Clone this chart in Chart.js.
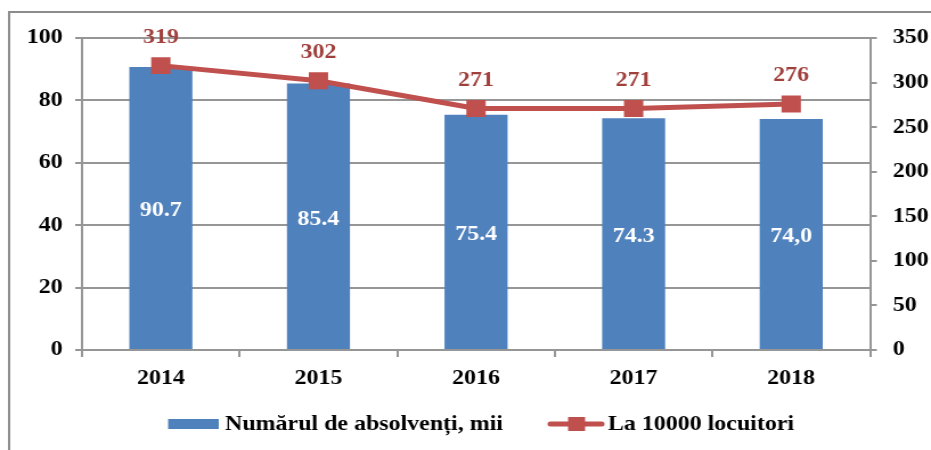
<!DOCTYPE html>
<html>
<head>
<meta charset="utf-8">
<script src="https://cdn.jsdelivr.net/npm/chart.js@4.4.1/dist/chart.umd.min.js"></script>
<style>
  html, body { margin: 0; padding: 0; background: #ffffff; overflow: hidden; }
  #wrap { width: 931px; height: 450px; position: relative; overflow: hidden; }
  /* the reference chart is horizontally stretched; draw narrower and stretch */
  #c { position: absolute; left: 0; top: 0; transform-origin: 0 0; transform: scaleX(1.1395); }
</style>
</head>
<body>
<div id="wrap"><canvas id="c" width="817" height="450"></canvas></div>
<script>
// ---- data ----
const years = ["2014", "2015", "2016", "2017", "2018"];
const graduates = [90.7, 85.4, 75.4, 74.3, 74.0];           // Numărul de absolvenți, mii
const graduatesText = ["90.7", "85.4", "75.4", "74.3", "74,0"];
const per10000 = [319, 302, 271, 271, 276];                 // La 10000 locuitori
const leftTicks = [0, 20, 40, 60, 80, 100];
const rightTicks = [0, 50, 100, 150, 200, 250, 300, 350];
const seriesNames = ["Numărul de absolvenți, mii", "La 10000 locuitori"];

const BLUE = "#4F81BD";
const RED = "#C0504D";
const LABEL_RED = "#A0403D";
const GRID = "#969696";
const FONT = "'Liberation Serif', 'Times New Roman', serif";

const frame = {
  id: "frame",
  beforeDraw(chart) {
    const ctx = chart.ctx;
    ctx.save();
    ctx.strokeStyle = "#8c8c8c";
    ctx.lineWidth = 2;
    ctx.strokeRect(8, 12, 1000, 1000);
    ctx.restore();
  }
};

const valueLabels = {
  id: "valueLabels",
  afterDatasetsDraw(chart) {
    const ctx = chart.ctx;
    ctx.save();
    ctx.textAlign = "center";
    ctx.textBaseline = "middle";
    // bar labels
    const m0 = chart.getDatasetMeta(0);
    ctx.font = "bold 21px " + FONT;
    ctx.fillStyle = "#ffffff";
    m0.data.forEach((el, i) => {
      const y = (el.y + el.base) / 2 + 3;
      ctx.fillText(graduatesText[i], el.x, y);
    });
    // line labels
    const m1 = chart.getDatasetMeta(1);
    ctx.fillStyle = LABEL_RED;
    m1.data.forEach((el, i) => {
      ctx.fillText(String(per10000[i]), el.x, el.y - 28);
    });
    ctx.restore();
  }
};

const customLegend = {
  id: "customLegend",
  afterDraw(chart) {
    const ctx = chart.ctx;
    ctx.save();
    const y = 424;
    ctx.font = "bold 21px " + FONT;
    ctx.textBaseline = "middle";
    ctx.textAlign = "left";
    // bar item
    ctx.fillStyle = BLUE;
    ctx.fillRect(147.5, y - 5, 44.5, 10);
    ctx.fillStyle = "#000000";
    ctx.fillText(seriesNames[0], 197.5, y + 1);
    // line item
    ctx.strokeStyle = RED;
    ctx.lineWidth = 5;
    ctx.lineCap = "round";
    ctx.beginPath();
    ctx.moveTo(483, y);
    ctx.lineTo(528, y);
    ctx.stroke();
    ctx.fillStyle = RED;
    ctx.fillRect(498.5, y - 7, 15, 14);
    ctx.fillStyle = "#000000";
    ctx.fillText(seriesNames[1], 533.5, y + 1);
    ctx.restore();
  }
};

new Chart(document.getElementById("c"), {
  type: "bar",
  data: {
    labels: years,
    datasets: [
      {
        type: "bar",
        label: seriesNames[0],
        data: graduates,
        backgroundColor: BLUE,
        borderWidth: 0,
        yAxisID: "y",
        categoryPercentage: 1.0,
        barPercentage: 0.4,
        order: 2
      },
      {
        type: "line",
        label: seriesNames[1],
        data: per10000,
        borderColor: RED,
        backgroundColor: RED,
        borderWidth: 5,
        pointStyle: "rect",
        pointRadius: 12,
        pointBorderWidth: 0,
        pointBackgroundColor: RED,
        tension: 0,
        yAxisID: "y1",
        order: 1
      }
    ]
  },
  options: {
    responsive: false,
    animation: false,
    devicePixelRatio: 1,
    layout: { padding: { top: 38, bottom: 0, left: 0, right: 0 } },
    plugins: {
      legend: { display: false },
      tooltip: { enabled: false }
    },
    scales: {
      x: {
        offset: true,
        grid: {
          offset: true,
          drawOnChartArea: false,
          drawTicks: true,
          tickLength: 7,
          color: GRID,
          lineWidth: 2
        },
        border: { color: GRID, width: 2 },
        ticks: {
          color: "#000000",
          font: { family: FONT, size: 21, weight: "bold" },
          padding: 9
        },
        afterFit(s) { s.height = 100; }
      },
      y: {
        position: "left",
        min: 0,
        max: 100,
        afterBuildTicks(s) { s.ticks = leftTicks.map(v => ({ value: v })); },
        grid: {
          color: GRID,
          lineWidth: 2,
          tickLength: 6
        },
        border: { color: GRID, width: 2 },
        ticks: {
          color: "#000000",
          font: { family: FONT, size: 21, weight: "bold" },
          padding: 11
        },
        afterFit(s) { s.width = 72; }
      },
      y1: {
        position: "right",
        min: 0,
        max: 350,
        afterBuildTicks(s) { s.ticks = rightTicks.map(v => ({ value: v })); },
        grid: {
          drawOnChartArea: false,
          color: GRID,
          lineWidth: 2,
          tickLength: 6
        },
        border: { color: GRID, width: 2 },
        ticks: {
          color: "#000000",
          font: { family: FONT, size: 21, weight: "bold" },
          padding: 14
        },
        afterFit(s) { s.width = 53.5; }
      }
    }
  },
  plugins: [frame, valueLabels, customLegend]
});
</script>
</body>
</html>
